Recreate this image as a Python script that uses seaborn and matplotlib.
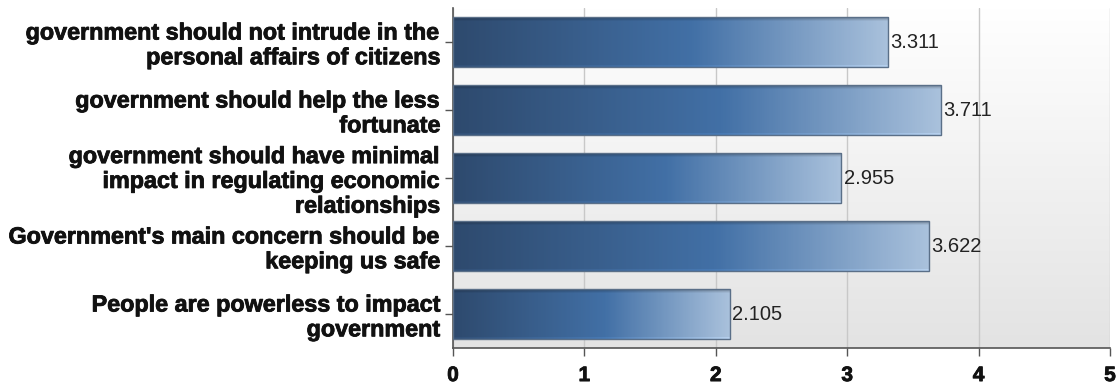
import numpy as np
import pandas as pd
import seaborn as sns
import matplotlib
matplotlib.use("Agg")
from matplotlib import pyplot as plt
from matplotlib import patheffects as pe
from matplotlib.colors import LinearSegmentedColormap

labels = [
    "government should not intrude in the\npersonal affairs of citizens",
    "government should help the less\nfortunate",
    "government should have minimal\nimpact in regulating economic\nrelationships",
    "Government's main concern should be\nkeeping us safe",
    "People are powerless to impact\ngovernment",
]
values = [3.311, 3.711, 2.955, 3.622, 2.105]

df = pd.DataFrame({"label": labels, "value": values})

sns.set_style("white")
plt.rcParams["font.family"] = ["Liberation Sans", "DejaVu Sans"]

fig = plt.figure(figsize=(11.16, 3.83), dpi=100)
ax = fig.add_axes([453 / 1116, 35 / 383, 657 / 1116, 340 / 383])

sns.barplot(data=df, x="value", y="label", orient="h", width=0.735, ax=ax,
            color="#3f6a9e", zorder=3)

ax.set_xlim(0, 5)
ax.set_xticks([0, 1, 2, 3, 4, 5])
ax.set_xlabel("")
ax.set_ylabel("")
ylo, yhi = ax.get_ylim()

# background gradient, white at top to light grey at bottom
bg = np.linspace(0, 1, 256).reshape(-1, 1)
bg_cmap = LinearSegmentedColormap.from_list("bg", ["#ffffff", "#e3e3e3"])
ax.imshow(bg, cmap=bg_cmap, aspect="auto", extent=[0, 5, ylo, yhi],
          origin="upper", zorder=0)
ax.set_ylim(ylo, yhi)

ax.grid(axis="x", color="#c8c8c8", linewidth=1, zorder=1)
ax.set_axisbelow(True)

# bar gradient (left dark -> right light) with slight vertical shading
bar_cmap = LinearSegmentedColormap.from_list(
    "bar", [(0, "#2e4a6e"), (0.55, "#4270a6"), (1.0, "#a9c1dc")])
gx = np.linspace(0, 1, 300)
gy = np.linspace(0, 1, 50)
base = bar_cmap(gx)[None, :, :3].repeat(len(gy), axis=0)
shade = np.ones(len(gy))
shade[:2] = 1.08
shade[-4:] = np.linspace(0.95, 0.72, 4)
img = np.clip(base * shade[:, None, None], 0, 1)

for p, v in zip(ax.patches, values):
    x0, y0 = p.get_x(), p.get_y()
    w, h = p.get_width(), p.get_height()
    im = ax.imshow(img, aspect="auto", extent=[x0, x0 + w, y0 + h, y0],
                   origin="lower", zorder=3)
    im.set_clip_path(p)
    p.set_facecolor("none")
    p.set_edgecolor("#5a6f88")
    p.set_linewidth(1)
    p.set_zorder(4)
    ax.text(x0 + w + 0.02, y0 + h / 2, f"{v:.3f}", va="center", ha="left",
            fontsize=14.5, color="#222222", zorder=5)

ax.set_ylim(ylo, yhi)
ax.set_xlim(0, 5)

for s in ["top", "right"]:
    ax.spines[s].set_visible(False)
for s in ["left", "bottom"]:
    ax.spines[s].set_color("#555555")
    ax.spines[s].set_linewidth(1.2)

ax.tick_params(axis="x", length=6, width=1, color="#555555", labelsize=15,
               pad=7, bottom=True, labelcolor="#111111")
ax.tick_params(axis="y", length=6, width=1, color="#555555", labelsize=16.8,
               pad=3, left=True, labelcolor="#111111")
heavy = [pe.withStroke(linewidth=0.6, foreground="#111111")]
for t in ax.get_xticklabels():
    t.set_fontweight("bold")
    t.set_path_effects(heavy)
for t in ax.get_yticklabels():
    t.set_fontweight("bold")
    t.set_linespacing(1.1)
    t.set_path_effects(heavy)

fig.savefig("out.png", dpi=100)
